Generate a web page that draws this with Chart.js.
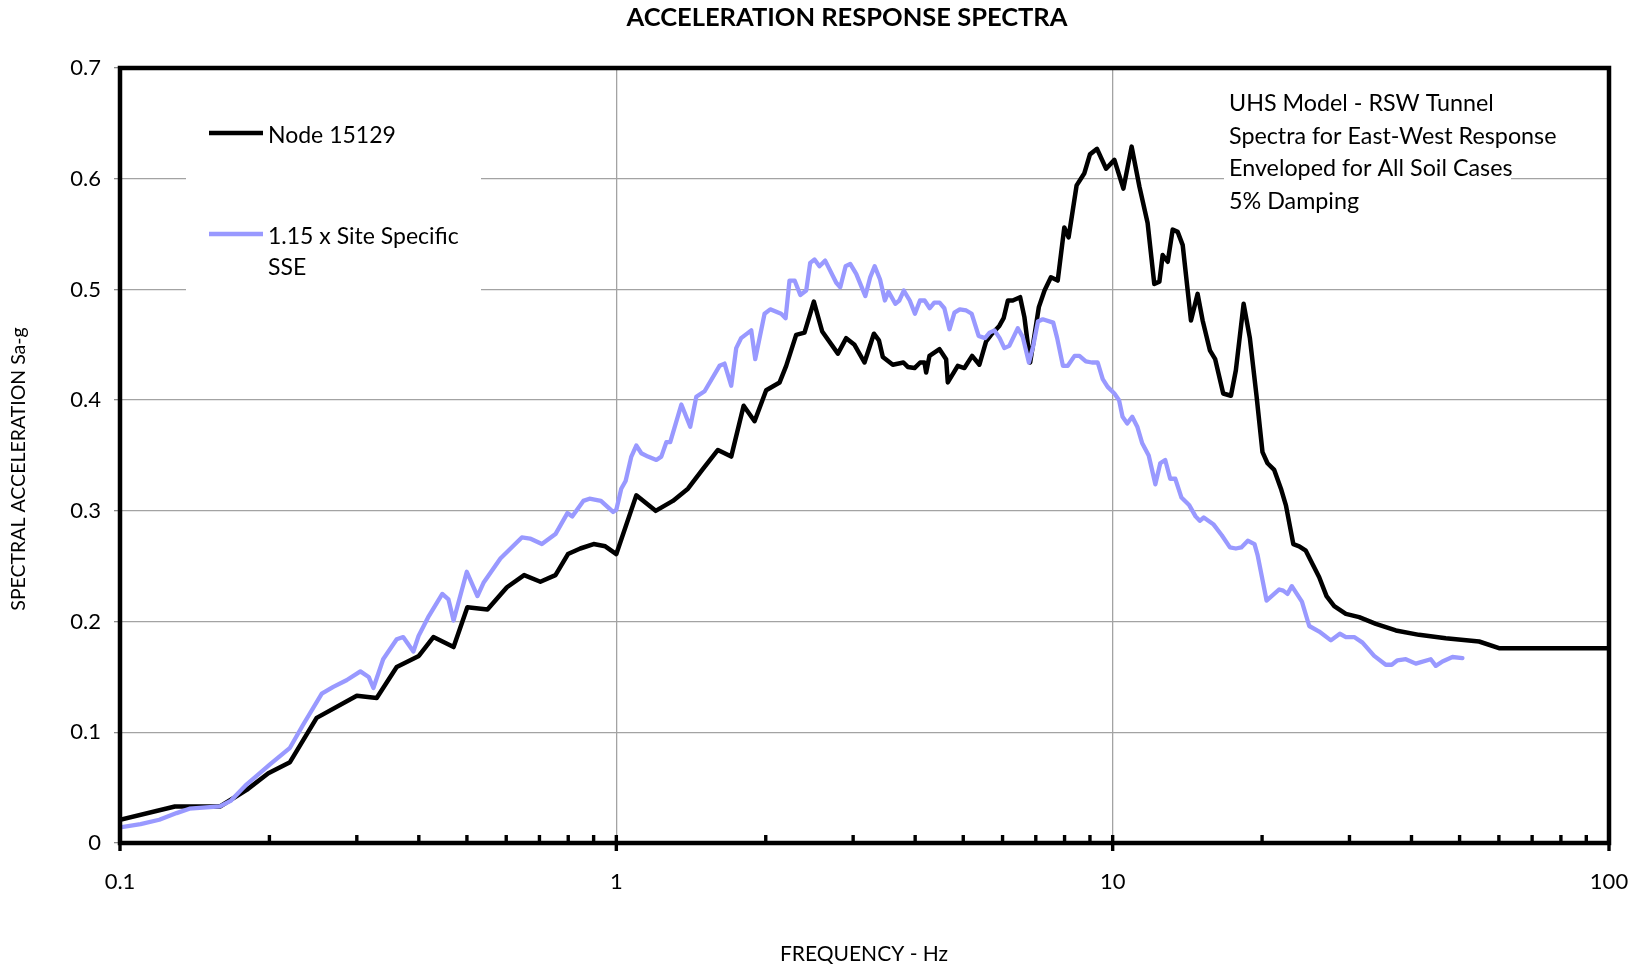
<!DOCTYPE html>
<html>
<head>
<meta charset="utf-8">
<title>Acceleration Response Spectra</title>
<script src="https://cdn.jsdelivr.net/npm/chart.js@4.4.1/dist/chart.umd.min.js"></script>
<style>
  html, body { margin: 0; padding: 0; background: #ffffff; }
  #wrap { width: 1640px; height: 970px; }
</style>
</head>
<body>
<div id="wrap"><canvas id="spectra" width="1640" height="970"></canvas></div>
<script>
// ---- Text ----
const chartTitle = 'ACCELERATION RESPONSE SPECTRA';
const xTitle = 'FREQUENCY - Hz';
const yTitle = 'SPECTRAL ACCELERATION Sa-g';
const xTickLabels = ['0.1', '1', '10', '100'];
const yTickLabels = ['0', '0.1', '0.2', '0.3', '0.4', '0.5', '0.6', '0.7'];
const seriesNames = ['Node 15129', '1.15 x Site Specific SSE'];
const legendLines = [['Node 15129'], ['1.15 x Site Specific', 'SSE']];
const notes = [
  'UHS Model - RSW Tunnel',
  'Spectra for East-West Response',
  'Enveloped for All Soil Cases',
  '5% Damping'
];

// ---- Node 15129 spectrum (frequency Hz, Sa g) ----
const nodeFreq = [
  0.100, 0.129, 0.159, 0.180, 0.199, 0.220, 0.249, 0.300, 0.329, 0.361,
  0.400, 0.428, 0.470, 0.501, 0.550, 0.602, 0.652, 0.703, 0.754, 0.799,
  0.846, 0.900, 0.950, 1.000, 1.097, 1.200, 1.300, 1.394, 1.495, 1.602,
  1.704, 1.805, 1.899, 2.004, 2.133, 2.199, 2.303, 2.394, 2.500, 2.599,
  2.795, 2.905, 3.019, 3.162, 3.303, 3.381, 3.443, 3.606, 3.788, 3.866,
  3.988, 4.094, 4.177, 4.209, 4.275, 4.478, 4.618, 4.654, 4.874, 5.027,
  5.210, 5.389, 5.559, 5.689, 5.910, 6.030, 6.150, 6.290, 6.510, 6.640,
  6.820, 6.960, 7.100, 7.290, 7.510, 7.750, 7.990, 8.150, 8.460, 8.770,
  9.000, 9.300, 9.700, 10.08, 10.51, 10.92, 11.32, 11.76, 12.13, 12.42,
  12.61, 12.91, 13.21, 13.52, 13.84, 14.38, 14.83, 15.18, 15.70, 16.09,
  16.70, 17.31, 17.71, 18.36, 18.90, 19.50, 20.04, 20.51, 21.16, 21.83,
  22.34, 23.12, 23.76, 24.50, 25.27, 26.07, 26.97, 27.95, 29.50, 31.38,
  33.90, 37.20, 41.43, 46.90, 54.73, 60.03, 100.0
];
const nodeSa = [
  0.021, 0.033, 0.033, 0.048, 0.063, 0.073, 0.113, 0.133, 0.131, 0.159,
  0.169, 0.186, 0.177, 0.213, 0.211, 0.231, 0.242, 0.236, 0.242, 0.261,
  0.266, 0.270, 0.268, 0.261, 0.314, 0.300, 0.309, 0.320, 0.338, 0.355,
  0.349, 0.395, 0.381, 0.409, 0.416, 0.431, 0.459, 0.461, 0.489, 0.462,
  0.442, 0.456, 0.450, 0.434, 0.460, 0.454, 0.439, 0.432, 0.434, 0.430,
  0.429, 0.434, 0.434, 0.425, 0.440, 0.446, 0.437, 0.416, 0.431, 0.429,
  0.440, 0.432, 0.453, 0.459, 0.467, 0.474, 0.490, 0.490, 0.493, 0.475,
  0.434, 0.459, 0.484, 0.499, 0.511, 0.508, 0.556, 0.547, 0.594, 0.605,
  0.622, 0.627, 0.609, 0.617, 0.591, 0.629, 0.593, 0.560, 0.505, 0.507,
  0.531, 0.525, 0.554, 0.552, 0.540, 0.472, 0.496, 0.472, 0.445, 0.437,
  0.406, 0.404, 0.427, 0.487, 0.456, 0.403, 0.353, 0.343, 0.337, 0.320,
  0.305, 0.270, 0.268, 0.264, 0.252, 0.240, 0.223, 0.214, 0.207, 0.204,
  0.198, 0.192, 0.188, 0.185, 0.182, 0.176, 0.176
];

// ---- 1.15 x site specific SSE spectrum (frequency Hz, Sa g) ----
const sseFreq = [
  0.100, 0.110, 0.120, 0.130, 0.138, 0.159, 0.167, 0.180, 0.189, 0.2005,
  0.220, 0.234, 0.255, 0.269, 0.286, 0.305, 0.317, 0.324, 0.339, 0.361,
  0.372, 0.390, 0.3995, 0.419, 0.446, 0.459, 0.470, 0.4997, 0.525, 0.540,
  0.584, 0.645, 0.670, 0.708, 0.754, 0.797, 0.815, 0.858, 0.883, 0.931,
  0.985, 1.000, 1.023, 1.044, 1.072, 1.097, 1.123, 1.158, 1.204, 1.232,
  1.261, 1.284, 1.352, 1.409, 1.449, 1.506, 1.614, 1.652, 1.704, 1.744,
  1.784, 1.870, 1.905, 1.989, 2.042, 2.148, 2.193, 2.233, 2.287, 2.348,
  2.413, 2.458, 2.508, 2.566, 2.635, 2.774, 2.826, 2.897, 2.960, 3.043,
  3.175, 3.247, 3.316, 3.399, 3.476, 3.535, 3.648, 3.716, 3.795, 3.901,
  3.996, 4.090, 4.180, 4.280, 4.370, 4.480, 4.580, 4.690, 4.800, 4.920,
  5.070, 5.200, 5.370, 5.530, 5.650, 5.780, 5.920, 6.050, 6.190, 6.440,
  6.590, 6.780, 6.910, 7.070, 7.230, 7.590, 7.730, 7.940, 8.120, 8.380,
  8.570, 8.830, 9.080, 9.330, 9.550, 9.770, 10.08, 10.30, 10.47, 10.70,
  10.95, 11.21, 11.47, 11.82, 12.19, 12.47, 12.76, 13.06, 13.37, 13.76,
  14.27, 14.69, 14.98, 15.26, 15.95, 16.59, 17.23, 17.71, 18.16, 18.72,
  19.31, 19.59, 20.42, 21.66, 22.06, 22.50, 22.96, 24.06, 24.89, 26.07,
  27.52, 28.69, 29.50, 30.66, 31.87, 33.64, 35.50, 36.50, 37.48, 38.96,
  40.81, 43.74, 44.77, 46.18, 48.37, 50.66
];
const sseSa = [
  0.014, 0.017, 0.021, 0.027, 0.031, 0.033, 0.038, 0.053, 0.061, 0.071,
  0.086, 0.107, 0.135, 0.141, 0.147, 0.155, 0.150, 0.140, 0.166, 0.184,
  0.186, 0.173, 0.187, 0.205, 0.225, 0.220, 0.201, 0.245, 0.223, 0.235,
  0.257, 0.276, 0.275, 0.270, 0.279, 0.298, 0.295, 0.309, 0.311, 0.309,
  0.299, 0.301, 0.320, 0.327, 0.349, 0.359, 0.352, 0.349, 0.346, 0.349,
  0.362, 0.362, 0.396, 0.376, 0.403, 0.408, 0.431, 0.433, 0.413, 0.447,
  0.456, 0.463, 0.437, 0.478, 0.482, 0.478, 0.474, 0.508, 0.508, 0.495,
  0.499, 0.524, 0.527, 0.521, 0.526, 0.506, 0.502, 0.521, 0.523, 0.514,
  0.494, 0.511, 0.521, 0.509, 0.490, 0.498, 0.487, 0.490, 0.499, 0.490,
  0.478, 0.490, 0.490, 0.483, 0.488, 0.488, 0.483, 0.464, 0.479, 0.482,
  0.481, 0.478, 0.458, 0.456, 0.461, 0.463, 0.456, 0.447, 0.449, 0.465,
  0.457, 0.434, 0.448, 0.471, 0.473, 0.470, 0.456, 0.431, 0.431, 0.440,
  0.440, 0.435, 0.434, 0.434, 0.419, 0.412, 0.406, 0.400, 0.385, 0.379,
  0.385, 0.376, 0.361, 0.350, 0.324, 0.343, 0.346, 0.329, 0.329, 0.312,
  0.305, 0.295, 0.291, 0.294, 0.288, 0.278, 0.267, 0.266, 0.267, 0.273,
  0.270, 0.260, 0.219, 0.229, 0.228, 0.225, 0.232, 0.218, 0.196, 0.191,
  0.183, 0.189, 0.186, 0.186, 0.181, 0.169, 0.161, 0.161, 0.165, 0.166,
  0.162, 0.166, 0.160, 0.164, 0.168, 0.167
];

// ---- Styling ----
const FONT = 'Lato, "DejaVu Sans", sans-serif';
const GRID = '#a3a3a3';
const SSE_COLOR = '#9999ff';
const AREA = { left: 120, top: 68, right: 1609, bottom: 843 };

const toPoints = (xs, ys) => xs.map((x, i) => ({ x: x, y: ys[i] }));
const isDecade = v => {
  const l = Math.log10(v);
  return Math.abs(l - Math.round(l)) < 1e-6;
};
const isWholeSignificand = v => {
  const e = Math.floor(Math.log10(v) + 1e-9);
  const s = v / Math.pow(10, e);
  return Math.abs(s - Math.round(s)) < 1e-6;
};

// Frame, axis tick marks, legend, notes and titles
const decor = {
  id: 'decor',
  beforeDatasetsDraw(chart) {
    const c = chart.ctx;
    c.save();
    c.fillStyle = '#ffffff';
    c.fillRect(186, 95, 295, 207);   // legend panel
    c.fillRect(1224, 82, 287, 136);  // notes panel
    c.restore();
  },
  afterDatasetsDraw(chart) {
    const c = chart.ctx;
    const a = chart.chartArea;
    const xs = chart.scales.x;
    c.save();
    // plot frame
    c.strokeStyle = '#000';
    c.lineWidth = 4.5;
    c.strokeRect(a.left, a.top, a.right - a.left, a.bottom - a.top);
    // x-axis tick marks (inside for minor, crossing for decades)
    c.lineWidth = 3.4;
    xs.ticks.forEach(t => {
      if (!isWholeSignificand(t.value)) return;
      const px = xs.getPixelForValue(t.value);
      c.beginPath();
      c.moveTo(px, a.bottom - 8);
      c.lineTo(px, isDecade(t.value) ? a.bottom + 8 : a.bottom);
      c.stroke();
    });
    // legend
    c.font = '23px ' + FONT;
    c.textAlign = 'left';
    c.textBaseline = 'alphabetic';
    const legendRows = [
      { y: 133, base: 143, step: 31 },
      { y: 234, base: 244, step: 31 }
    ];
    chart.data.datasets.forEach((ds, i) => {
      const r = legendRows[i];
      c.strokeStyle = ds.borderColor;
      c.lineWidth = 4.3;
      c.beginPath();
      c.moveTo(209, r.y);
      c.lineTo(263, r.y);
      c.stroke();
      c.fillStyle = '#000';
      legendLines[i].forEach((txt, k) => c.fillText(txt, 268, r.base + k * r.step));
    });
    // notes
    c.font = '23.3px ' + FONT;
    notes.forEach((txt, k) => c.fillText(txt, 1229, 111 + k * 32.7));
    c.restore();
  },
  afterDraw(chart) {
    const c = chart.ctx;
    c.save();
    c.fillStyle = '#000';
    c.textAlign = 'center';
    c.textBaseline = 'middle';
    c.font = 'bold 25.5px ' + FONT;
    c.fillText(chartTitle, 847, 18);
    c.font = '21px ' + FONT;
    c.fillText(xTitle, 864, 954);
    c.font = '19.5px ' + FONT;
    c.translate(19, 469);
    c.rotate(-Math.PI / 2);
    c.fillText(yTitle, 0, 0);
    c.restore();
  }
};

new Chart(document.getElementById('spectra'), {
  type: 'scatter',
  data: {
    datasets: [
      {
        label: seriesNames[0],
        data: toPoints(nodeFreq, nodeSa),
        showLine: true,
        borderColor: '#000000',
        borderWidth: 4.5,
        pointRadius: 0,
        borderJoinStyle: 'round',
        borderCapStyle: 'round',
        order: 1
      },
      {
        label: seriesNames[1],
        data: toPoints(sseFreq, sseSa),
        showLine: true,
        borderColor: SSE_COLOR,
        borderWidth: 4.3,
        pointRadius: 0,
        borderJoinStyle: 'round',
        borderCapStyle: 'round',
        order: 0
      }
    ]
  },
  options: {
    responsive: false,
    animation: false,
    devicePixelRatio: 1,
    events: [],
    layout: { padding: { left: 0, top: AREA.top, right: 1640 - AREA.right, bottom: 0 } },
    plugins: {
      legend: { display: false },
      tooltip: { enabled: false },
      title: { display: false }
    },
    scales: {
      x: {
        type: 'logarithmic',
        min: 0.1,
        max: 100,
        afterFit: s => {
          s.height = 970 - AREA.bottom;
          s.paddingLeft = 0;
          s.paddingRight = 0;
        },
        border: { display: false },
        grid: {
          drawTicks: false,
          lineWidth: 1.3,
          color: ctx => (ctx.tick && isDecade(ctx.tick.value) && ctx.tick.value > 0.1 && ctx.tick.value < 100) ? GRID : 'rgba(0,0,0,0)'
        },
        ticks: {
          autoSkip: false,
          maxRotation: 0,
          padding: 26,
          color: '#000',
          font: { family: FONT, size: 22 },
          callback: v => isDecade(v) ? xTickLabels[Math.round(Math.log10(v)) + 1] : ''
        }
      },
      y: {
        min: 0,
        max: 0.7,
        afterFit: s => {
          s.width = AREA.left;
          s.paddingTop = 0;
          s.paddingBottom = 0;
        },
        border: { display: false },
        grid: { color: GRID, lineWidth: 1.3, drawTicks: true, tickLength: 6, tickColor: '#8c8c8c' },
        ticks: {
          stepSize: 0.1,
          padding: 13,
          color: '#000',
          font: { family: FONT, size: 22 },
          callback: (v, i) => yTickLabels[i]
        }
      }
    }
  },
  plugins: [decor]
});
</script>
</body>
</html>
